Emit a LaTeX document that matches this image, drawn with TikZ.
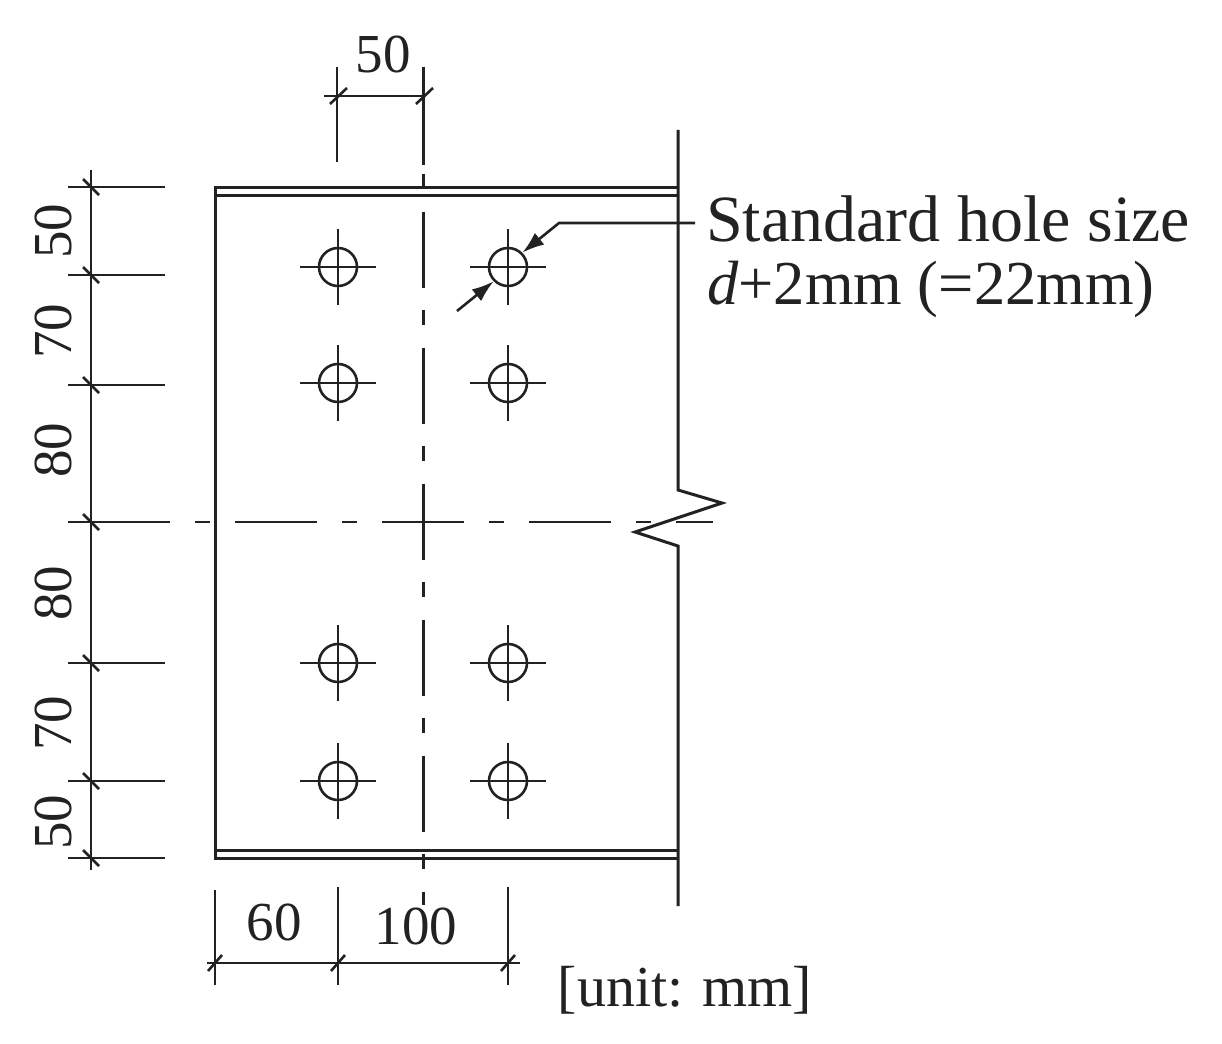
\documentclass[tikz,border=0pt]{standalone}
\usepackage{fontspec}
\setmainfont{Liberation Serif}
\usepackage{tikz}
\usetikzlibrary{arrows.meta}
\definecolor{inkline}{HTML}{222222}
\tikzset{>={Latex[length=22pt,width=15pt]}}
\tikzset{
  steel/.style={draw=inkline, line width=3pt},
  thin steel/.style={draw=inkline, line width=2.6pt},
  centre line/.style={draw=inkline, line width=3pt, dash pattern=on 76pt off 22pt on 15pt off 23pt},
  centre cross/.style={draw=inkline, line width=2.6pt, dash pattern=on 82pt off 25pt on 15pt off 25pt},
  dim text/.style={inner sep=0pt, anchor=base, text=inkline, font=\fontsize{55}{55}\selectfont},
  hole/.style={circle, draw=inkline, line width=2.6pt, minimum size=38pt, inner sep=0pt},
}
\begin{document}
\begin{tikzpicture}[x=1pt, y=-1pt]
            \useasboundingbox (0, 0) rectangle (1222, 1043);
            \draw[steel] (678, 187) -- (215, 187) -- (215, 858) -- (678, 858);
            \draw[steel] (215, 195) -- (678, 195);
            \draw[steel] (215, 850) -- (678, 850);
            \draw[steel] (678, 130) -- (678, 490) -- (722, 503) -- (635, 532) -- (678, 546) -- (678, 906);
            \draw[centre line] (423, 76) -- (423, 905);
            \draw[centre cross] (88, 522) -- (713, 522);
            \foreach \row/\ypos in {1/267, 2/383, 3/663, 4/781} {
                \foreach \col/\xpos in {1/338, 2/508} {
                    \node[hole] (hole\row\col) at (\xpos, \ypos) {};
                    \draw[thin steel] (\xpos - 38, \ypos) -- (\xpos + 38, \ypos);
                    \draw[thin steel] (\xpos, \ypos - 38) -- (\xpos, \ypos + 38);
                }
            }
            \draw[thin steel] (91, 170) -- (91, 870);
            \foreach \ypos in {187, 275, 385, 522, 663, 781, 858} {
                \draw[thin steel] (68, \ypos) -- (165, \ypos);
                \draw[thin steel] (83, \ypos - 8) -- (99, \ypos + 8);
            }
            \foreach \ypos/\dimval in {231/50, 331/70, 450/80, 593/80, 723/70, 822/50} {
                \node[dim text, rotate=90] (left\ypos) at (71, \ypos) {\dimval};
            }
            \draw[thin steel] (337, 67) -- (337, 162);
            \draw[steel] (423, 67) -- (423, 165);
            \draw[thin steel] (324, 96) -- (423, 96);
            \foreach \xpos in {337, 423} {
                \draw[thin steel] (\xpos - 7, 104) -- (\xpos + 10, 88);
            }
            \node[dim text] (topdim) at (383, 73) {50};
            \foreach \xpos/\ytop in {215/890, 338/887, 508/887} {
                \draw[thin steel] (\xpos, \ytop) -- (\xpos, 985);
                \draw[thin steel] (\xpos - 7, 971) -- (\xpos + 7, 955);
            }
            \draw[thin steel] (207, 963) -- (520, 963);
            \node[dim text] (sixty) at (274, 940) {60};
            \node[dim text] (hundred) at (416, 944) {100};
            \node[inner sep=0pt, anchor=base, text=inkline, font=\fontsize{58}{58}\selectfont] (unit) at (685, 1006) {[unit: mm]};
            \node[inner sep=0pt, anchor=base west, text=inkline, font=\fontsize{66}{66}\selectfont] (holesize) at (706, 241) {Standard hole size};
            \node[inner sep=0pt, anchor=base west, text=inkline, font=\fontsize{62.5}{62.5}\selectfont] (holediam) at (707, 304) {\textit{d}+2mm (=22mm)};
            \coordinate (leadstart) at (695, 223);
            \coordinate (leadbend) at (559, 223);
            \coordinate (dimfoot) at (457, 311);
            \draw[thin steel, ->] (leadstart) -- (leadbend) -- (hole12.north east);
            \draw[thin steel, ->] (dimfoot) -- (hole12.south west);
        \end{tikzpicture}
\end{document}
